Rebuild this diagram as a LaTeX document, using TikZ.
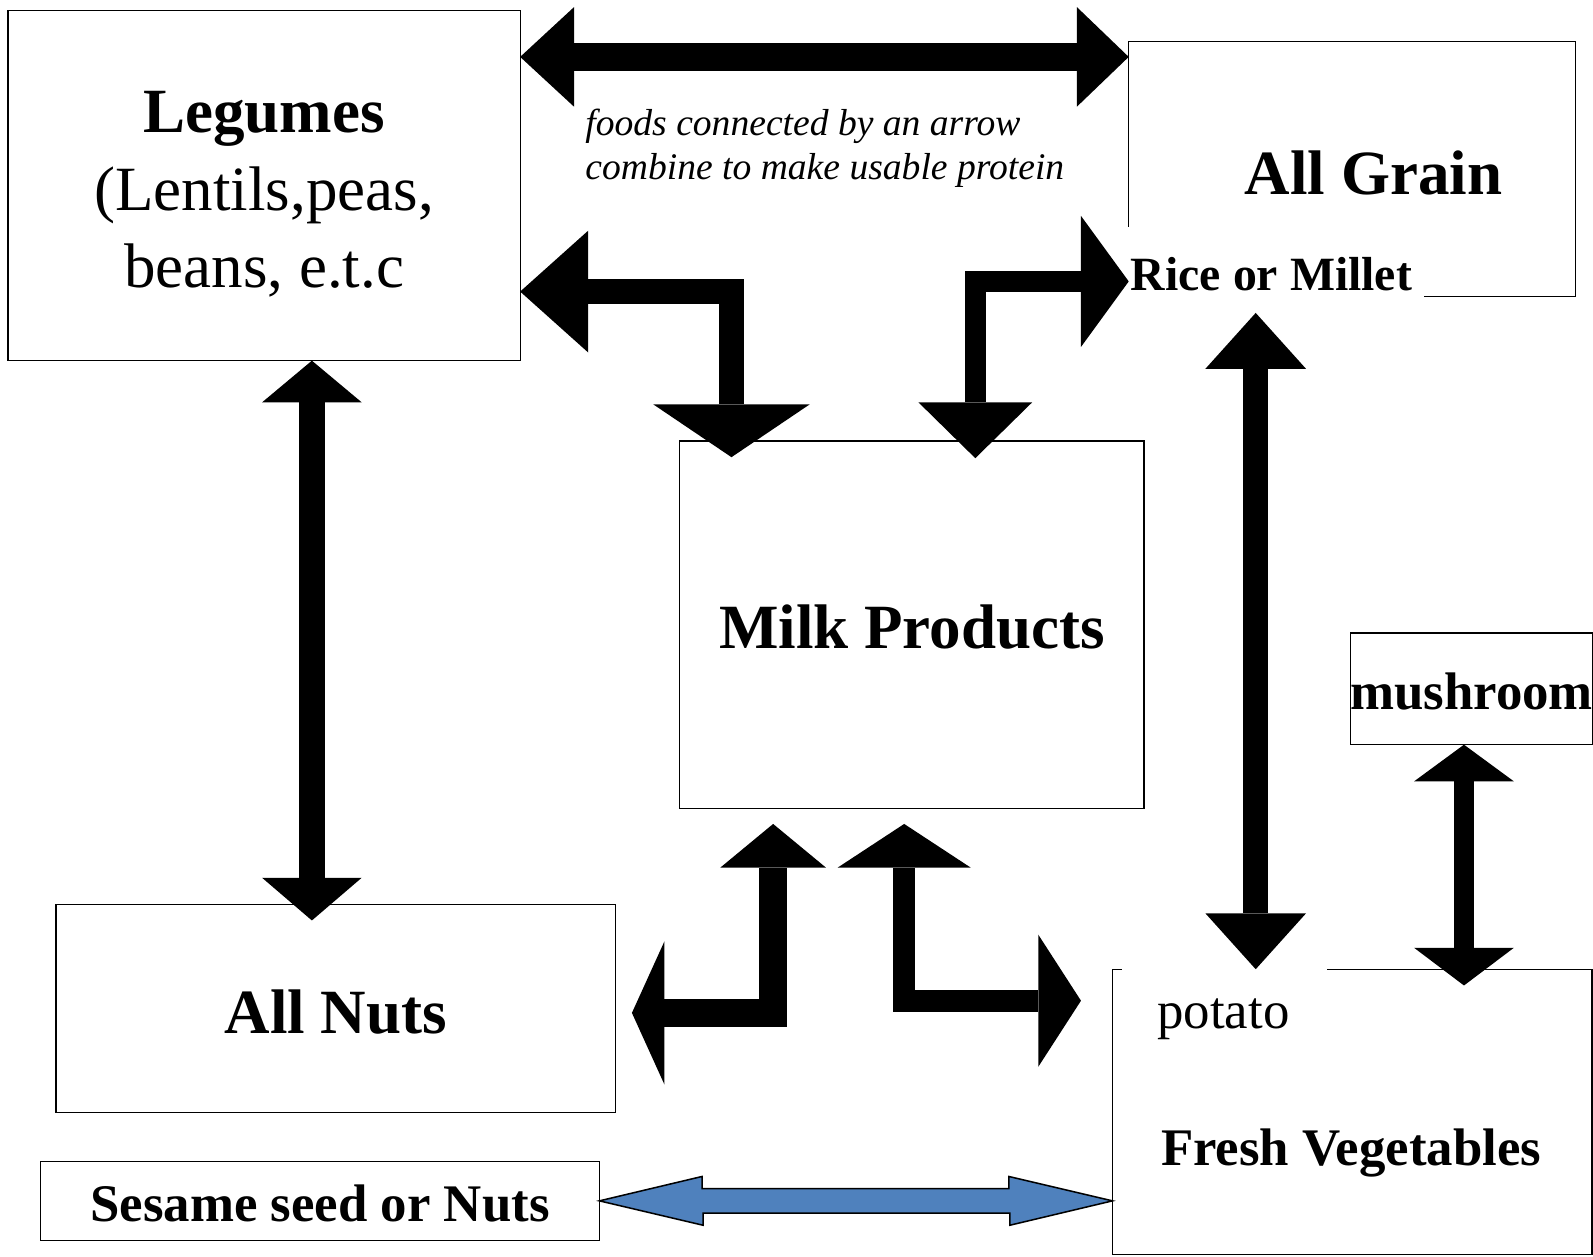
\documentclass[tikz,border=0pt]{standalone}
\usepackage{fontspec}
\setmainfont{Liberation Serif}
\usetikzlibrary{arrows.meta}

\newcommand{\fbig}{\fontsize{62}{76}\selectfont}
\newcommand{\fmid}{\fontsize{52}{60}\selectfont}
\newcommand{\frice}{\fontsize{47}{56}\selectfont}
\newcommand{\fnote}{\fontsize{37}{43}\selectfont}

\tikzset{
  foodbox/.style={draw, line width=1.3pt, inner sep=0pt, outer sep=0pt},
  fatarrow/.style={line width=#1pt, line join=miter, line cap=butt},
}

\begin{document}
\begin{tikzpicture}[x=1pt,y=-1pt]
      \useasboundingbox (0,0) rectangle (1568,1237);
      % boxes
      \node (legumes) [foodbox, minimum width=504pt, minimum height=345pt, align=center, font=\fbig]
        at (260,182.5) {\rule{0pt}{58pt}\textbf{Legumes}\\(Lentils,peas,\\beans, e.t.c};
      \node (grain) [foodbox, draw=none, minimum width=440pt, minimum height=251pt] at (1331,166.5) {};
      \node (graintxt) [font=\fbig\bfseries] at (1352,170) {All Grain};
      \node (rice) [font=\frice\bfseries, anchor=west, inner sep=0pt] at (1113,270) {Rice or Millet};
      \draw[line width=1.3pt] ([yshift=-182pt]grain.north west) |- (grain.north east) |- ([xshift=-149pt]grain.south east);
      \node (note) [font=\fnote\itshape, align=left, inner sep=0pt, anchor=west]
        at (576,146) {foods connected by an arrow\\combine to make usable protein};
      \node (milk) [foodbox, minimum width=457pt, minimum height=362pt, text height=48pt, font=\fbig\bfseries] at (897.5,615) {Milk Products};
      \node (mushroom) [foodbox, minimum width=235pt, minimum height=110pt, text height=42pt, font=\fmid\bfseries] at (1448.5,678) {mushroom};
      \node (nuts) [foodbox, minimum width=551pt, minimum height=205pt, text height=50pt, font=\fbig\bfseries] at (330.5,992.5) {All Nuts};
      \node (sesame) [foodbox, minimum width=550pt, minimum height=78pt, text height=42pt, font=\fmid\bfseries] at (315,1182) {Sesame seed or Nuts};
      \node (veg) [foodbox, draw=none, minimum width=472pt, minimum height=281pt] at (1331,1094.5) {};
      \node (potato) [font=\fmid, anchor=west, inner sep=0pt] at (1139,1003) {potato};
      \node (vegtxt) [font=\fmid\bfseries] at (1330,1135) {Fresh Vegetables};
      \draw[line width=1.3pt] ([xshift=9pt]veg.north west) -- (veg.north west) -- (veg.south west)
        -- (veg.south east) -- (veg.north east) -- ([xshift=211pt]veg.north west);
      % arrows
      \draw[fatarrow=27, {Triangle[length=53pt,width=98pt,line width=0pt]}-{Triangle[length=51pt,width=98pt,line width=0pt]}]
        ([yshift=-46pt]legumes.north east) -- ([yshift=-15pt]grain.north west);
      \draw[fatarrow=25, {Triangle[length=67pt,width=120pt,line width=0pt]}-{Triangle[length=52pt,width=154pt,line width=0pt]}]
        ([yshift=68pt]legumes.south east) -| ([xshift=51pt,yshift=-16pt]milk.north west);
      \draw[fatarrow=21, {Triangle[length=55pt,width=112pt,line width=0pt]}-{Triangle[length=47pt,width=129pt,line width=0pt]}]
        ([xshift=291pt,yshift=-17pt]milk.north west) |- ([yshift=-110.5pt]grain.west);
      \draw[fatarrow=26, {Triangle[length=41pt,width=98pt,line width=0pt]}-{Triangle[length=42pt,width=98pt,line width=0pt]}]
        ([xshift=47pt]legumes.south) -- ([xshift=-23.5pt,yshift=-16pt]nuts.north);
      \draw[fatarrow=25, {Triangle[length=55pt,width=99pt,line width=0pt]}-{Triangle[length=55pt,width=99pt,line width=0pt]}]
        ([xshift=-95pt,yshift=-16pt]grain.south) -- ([xshift=-95pt]veg.north);
      \draw[fatarrow=20, {Triangle[length=36pt,width=98pt,line width=0pt]}-{Triangle[length=37pt,width=98pt,line width=0pt]}]
        ([xshift=-7.5pt]mushroom.south) -- ([xshift=110pt,yshift=-16pt]veg.north);
      \draw[fatarrow=27, {Triangle[length=32pt,width=141pt,line width=0pt]}-{Triangle[length=43pt,width=104pt,line width=0pt]}]
        ([xshift=16pt,yshift=-4.5pt]nuts.east) -| ([xshift=92pt,yshift=-15pt]milk.south west);
      \draw[fatarrow=22, {Triangle[length=43pt,width=131pt,line width=0pt]}-{Triangle[length=42pt,width=130pt,line width=0pt]}]
        ([xshift=221pt,yshift=-15pt]milk.south west) |- ([xshift=-31pt,yshift=109.5pt]veg.west);
      \draw[line width=1.5pt, line join=miter, fill={rgb,255:red,79;green,129;blue,189}]
        (sesame.east) -- ++(101,-24) -- ++(0,12) -- ++(302,0) -- ++(0,-12) -- (veg.west |- sesame.east)
        -- ++(-101,24) -- ++(0,-12) -- ++(-302,0) -- ++(0,12) -- cycle;
    \end{tikzpicture}
\end{document}
